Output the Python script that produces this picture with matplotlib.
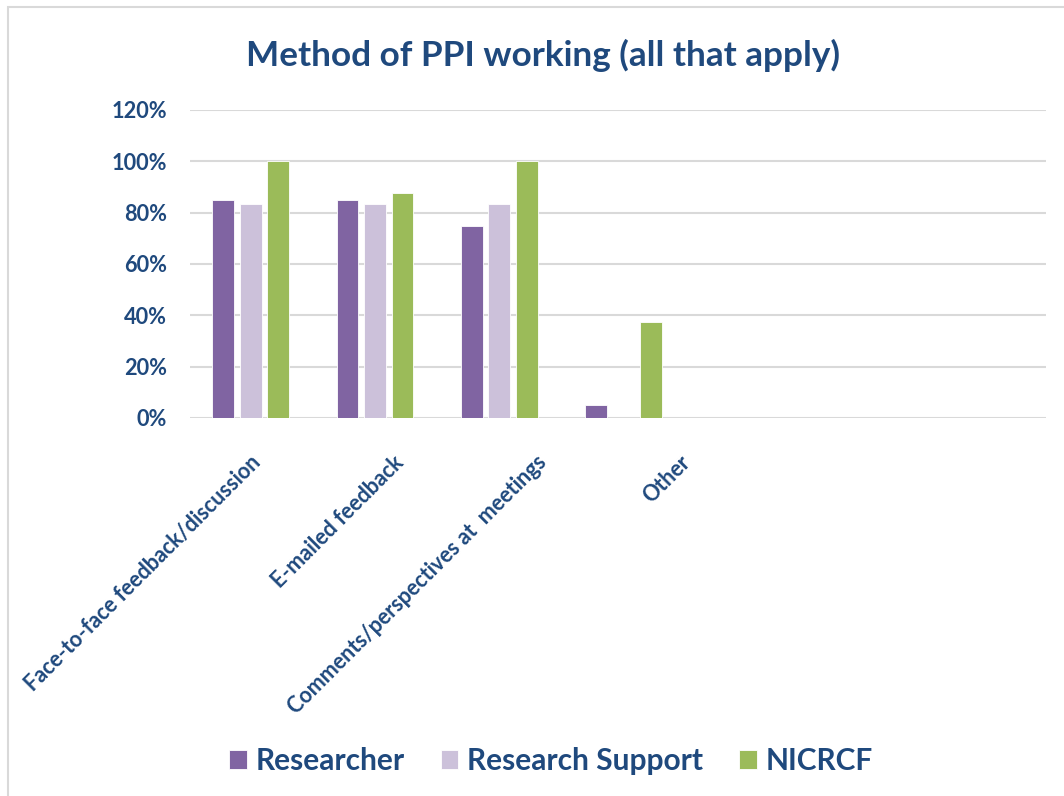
import matplotlib
matplotlib.use("Agg")
import matplotlib.pyplot as plt
from matplotlib.patches import Rectangle
from matplotlib.ticker import PercentFormatter
import matplotlib.transforms as mtrans
import numpy as np

categories = ["Face-to-face feedback/discussion", "E-mailed feedback",
              "Comments/perspectives at  meetings", "Other", "", "", ""]
series_names = ["Researcher", "Research Support", "NICRCF"]
researcher = [85, 85, 75, 5, 0, 0, 0]
research_support = [83.3, 83.3, 83.3, 0, 0, 0, 0]
nicrcf = [100, 87.5, 100, 37.5, 0, 0, 0]
yticks = [0, 20, 40, 60, 80, 100, 120]

colors = ["#8064A2", "#CCC1DA", "#9BBB59"]
text_color = "#1F497D"
plt.rcParams['font.family'] = ['Lato', 'DejaVu Sans']

fig = plt.figure(figsize=(10.64, 7.96), dpi=100)
# outer chart border
fig.patches.append(Rectangle((8/1064, -0.01), 1.1, 1 - 7/796 + 0.01, transform=fig.transFigure,
                             fill=False, edgecolor="#D9D9D9", linewidth=1.5))

ax = fig.add_axes([190/1064, 1 - 418/796, (1046 - 190)/1064, (418 - 110)/796])
x = np.arange(len(categories))
w = 0.175
off = 0.221
handles = []
for i, (vals, c, name) in enumerate(zip([researcher, research_support, nicrcf], colors, series_names)):
    h = ax.bar(x + (i - 1) * off, vals, width=w, color=c, edgecolor="white", linewidth=0.6,
               label=name, zorder=3)
    handles.append(h)

ax.set_ylim(0, 120)
ax.set_yticks(yticks)
ax.yaxis.set_major_formatter(PercentFormatter(decimals=0))
ax.grid(axis="y", color="#D9D9D9", linewidth=1.5, zorder=0)
for s in ax.spines.values():
    s.set_visible(False)
ax.tick_params(axis="y", length=0, labelsize=15.7, labelcolor=text_color, pad=16.5)
ax.tick_params(axis="x", length=0, pad=4)
for lab in ax.get_yticklabels():
    lab.set_fontweight("bold")
# category labels are spread a little wider than the bar groups in the reference
ax.set_xticks(x * 1.152)
ax.set_xticklabels(categories, rotation=45, ha="right", rotation_mode="anchor",
                   fontsize=15.5, fontweight="bold", color=text_color)
ax.set_xlim(-0.488, 6.4)
dx = mtrans.ScaledTranslation(-1/100, -28/100, fig.dpi_scale_trans)
for lab in ax.get_xticklabels():
    lab.set_transform(lab.get_transform() + dx)

fig.text(543/1064, 1 - 55/796, "Method of PPI working (all that apply)", ha="center", va="center",
         fontsize=25.3, fontweight="bold", color=text_color)

leg = fig.legend(handles=handles, labels=series_names, loc="center", bbox_to_anchor=(551/1064, 1 - 761/796),
                 ncol=3, frameon=False, fontsize=21.5, handlelength=0.6, handleheight=0.6,
                 handletextpad=0.3, columnspacing=1.2)
for t in leg.get_texts():
    t.set_color(text_color)
    t.set_fontweight("bold")

fig.savefig("out.png", dpi=100)
